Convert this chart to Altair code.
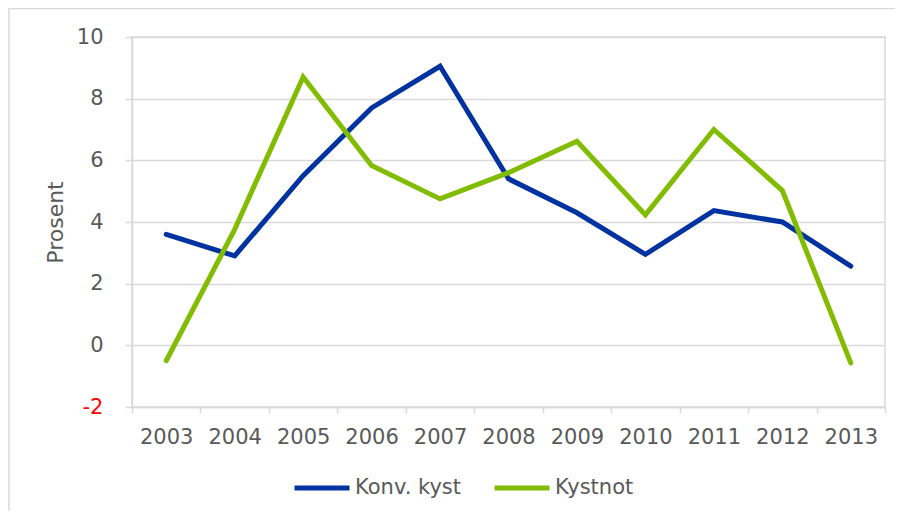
import altair as alt
import pandas as pd

years = ["2003", "2004", "2005", "2006", "2007", "2008", "2009", "2010", "2011", "2012", "2013"]
konv_kyst = [3.6, 2.9, 5.5, 7.7, 9.05, 5.4, 4.3, 2.95, 4.37, 4.0, 2.57]
kystnot = [-0.5, 3.76, 8.7, 5.83, 4.75, 5.6, 6.62, 4.23, 7.0, 5.02, -0.57]
series_names = ["Konv. kyst", "Kystnot"]
series_colors = ["#0033A0", "#82BC00"]
y_ticks = [-2, 0, 2, 4, 6, 8, 10]

rows = []
for name, vals in zip(series_names, [konv_kyst, kystnot]):
    for i, (yr, v) in enumerate(zip(years, vals)):
        rows.append({"year": yr, "value": v, "series": name, "order": i})
df = pd.DataFrame(rows)

FONT = "DejaVu Sans"
TXT = "#595959"
GRID = "#d9d9d9"

lines = alt.Chart(df).mark_line(strokeWidth=5, strokeCap="round").encode(
    x=alt.X("year:N", sort=years, bandPosition=0.5, title=None,
            scale=alt.Scale(type="band", paddingInner=0, paddingOuter=0),
            axis=alt.Axis(labelAngle=0, labelFontSize=21, labelColor=TXT, labelFont=FONT,
                          tickBand="extent", tickSize=6, tickColor=GRID, tickWidth=1.5,
                          domainColor=GRID, domainWidth=1.5, labelPadding=13, grid=False)),
    y=alt.Y("value:Q", title="Prosent",
            scale=alt.Scale(domain=[-2, 10], nice=False, zero=False),
            axis=alt.Axis(values=y_ticks, grid=True, gridColor=GRID, gridWidth=1.5,
                          tickSize=7, tickColor=GRID, tickWidth=1.5,
                          domainColor=GRID, domainWidth=1.5,
                          labelExpr="toString(datum.value)",
                          labelFontSize=21, labelFont=FONT, labelPadding=22,
                          labelColor={"condition": {"test": "datum.value < 0", "value": "#ff0000"}, "value": TXT},
                          titleFontSize=22, titleFont=FONT, titleFontWeight="normal",
                          titleColor=TXT, titlePadding=9)),
    color=alt.Color("series:N", scale=alt.Scale(domain=series_names, range=series_colors),
                    legend=alt.Legend(title=None, orient="none", legendX=160, legendY=421,
                                      direction="horizontal", symbolType="stroke",
                                      symbolSize=3025, symbolStrokeWidth=5,
                                      labelFontSize=21, labelFont=FONT, labelColor=TXT,
                                      labelOffset=3, columnPadding=22)),
    order="order:Q",
)

frame = alt.Chart(pd.DataFrame({"a": [0]})).mark_rect(
    fill="transparent", stroke=GRID, strokeWidth=1.5
).encode(x=alt.value(-123), x2=alt.value(840), y=alt.value(-28.5), y2=alt.value(540))

chart = alt.layer(frame, lines).properties(
    width=753, height=370,
    autosize=alt.AutoSizeParams(type="none"),
    padding={"left": 124, "top": 29, "right": 10, "bottom": 104},
).configure_view(stroke=GRID, strokeWidth=1.5)

chart.save("out.html", embed_options={"renderer": "svg", "actions": False})
